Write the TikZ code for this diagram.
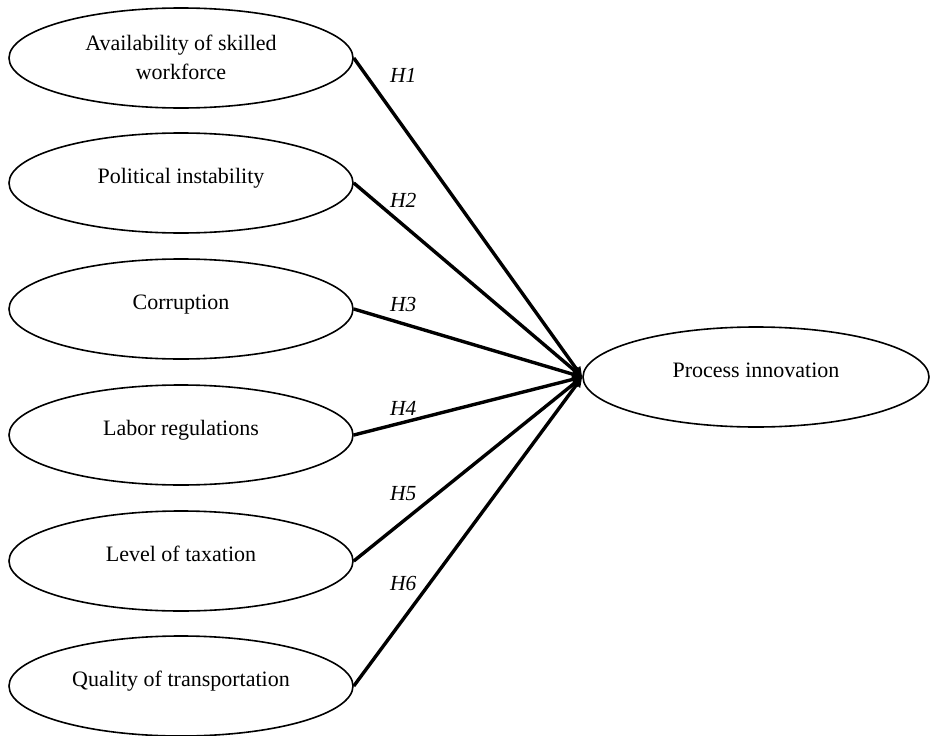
\documentclass[tikz,border=0pt]{standalone}
\usepackage{fontspec}
\setmainfont{Liberation Serif}
\usetikzlibrary{shapes.geometric,arrows.meta}
\begin{document}
\begin{tikzpicture}[x=1pt,y=-1pt,
  ell/.style={draw, ellipse, line width=1.6pt, minimum width=344pt, minimum height=100pt, inner sep=0pt},
  txt/.style={anchor=base, font=\fontsize{22}{29}\selectfont, inner sep=0pt},
  hyp/.style={anchor=base west, font=\fontsize{21.5}{25}\selectfont\itshape, inner sep=0pt},
  link/.style={line width=3.4pt, -{Triangle[length=10pt,width=9pt]}}]
\useasboundingbox (0,0) rectangle (930,736);
% left ellipses
\node[ell] (e1) at (181,58) {};
\node[ell] (e2) at (181,183) {};
\node[ell] (e3) at (181,309) {};
\node[ell] (e4) at (181,435) {};
\node[ell] (e5) at (181,561) {};
\node[ell] (e6) at (181,686) {};
\node[ell, minimum width=346pt] (p) at (756,377) {};
% texts
\node[txt] (t1a) at (181,50) {Availability of skilled};
\node[txt] (t1b) at (181,79) {workforce};
\node[txt] (t2) at (181,183) {Political instability};
\node[txt] (t3) at (181,309) {Corruption};
\node[txt] (t4) at (181,435) {Labor regulations};
\node[txt] (t5) at (181,561) {Level of taxation};
\node[txt] (t6) at (181,686) {Quality of transportation};
\node[txt] (tp) at (756,377) {Process innovation};
% connectors
\draw[link] (e1.east) -- (p.west);
\draw[link] (e2.east) -- (p.west);
\draw[link] (e3.east) -- (p.west);
\draw[link] (e4.east) -- (p.west);
\draw[link] (e5.east) -- (p.west);
\draw[link] (e6.east) -- (p.west);
% hypothesis labels
\node[hyp] (h1) at (390,82) {H1};
\node[hyp] (h2) at (390,207) {H2};
\node[hyp] (h3) at (390,311) {H3};
\node[hyp] (h4) at (390,415) {H4};
\node[hyp] (h5) at (390,500) {H5};
\node[hyp] (h6) at (390,590) {H6};
\end{tikzpicture}
\end{document}
